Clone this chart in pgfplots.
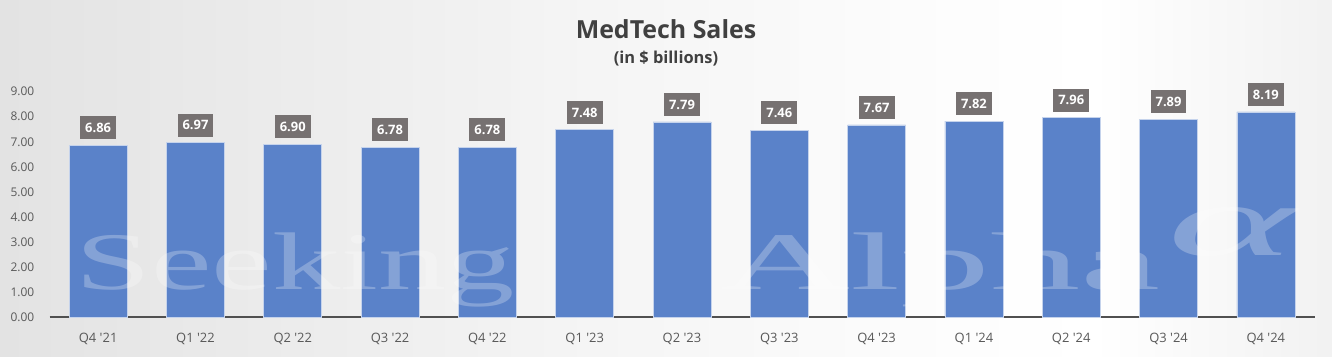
\documentclass[border=0pt]{standalone}
\usepackage{pgfplots}
\pgfplotsset{compat=1.18}
\usepackage{graphicx}
\usepackage{fontspec}
\setmainfont{Open Sans}
\newfontfamily\wmfont{Liberation Serif}
\definecolor{barblue}{HTML}{5A82C9}
\definecolor{lblgray}{HTML}{767171}
\definecolor{txtgray}{HTML}{595959}
\definecolor{titlegray}{HTML}{404040}
\definecolor{axisgray}{HTML}{505050}
\pgfdeclarehorizontalshading{bgshade}{100bp}{%
  color(0bp)=(black!24); color(11bp)=(black!17); color(25bp)=(black!11);
  color(47bp)=(black!4); color(60bp)=(black!1); color(66bp)=(white);
  color(78bp)=(black!7); color(86bp)=(black!17); color(100bp)=(black!25)}
\pgfplotstableread{
x y
0 6.86
1 6.97
2 6.90
3 6.78
4 6.78
5 7.48
6 7.79
7 7.46
8 7.67
9 7.82
10 7.96
11 7.89
12 8.19
}\sales
\begin{document}
\begin{tikzpicture}[x=1bp,y=1bp]
\shade[shading=bgshade] (0,0) rectangle (1332,356);
\node[anchor=base, text=titlegray, font=\fontsize{25}{30}\selectfont\bfseries] at (666,318) {MedTech Sales};
\node[anchor=base, text=titlegray, font=\fontsize{16.5}{19}\selectfont\bfseries] at (666,293) {(in \$ billions)};
\begin{axis}[
  at={(49.5bp,39bp)}, anchor=south west,
  scale only axis, width=1265bp, height=225.3bp,
  xmin=-0.5, xmax=12.5, ymin=0, ymax=9,
  ybar, bar width=58bp,
  axis x line=bottom, axis y line=left,
  x axis line style={draw=axisgray, line width=1.2bp, -},
  y axis line style={draw=none},
  major tick length=0pt,
  xtick=data,
  xticklabels={Q4 \textquotesingle21, Q1 \textquotesingle22, Q2 \textquotesingle22, Q3 \textquotesingle22, Q4 \textquotesingle22, Q1 \textquotesingle23, Q2 \textquotesingle23, Q3 \textquotesingle23, Q4 \textquotesingle23, Q1 \textquotesingle24, Q2 \textquotesingle24, Q3 \textquotesingle24, Q4 \textquotesingle24},
  ytick={0,1,...,9},
  yticklabel style={anchor=east, inner sep=0pt, xshift=-15bp, text=txtgray, font=\fontsize{12}{14}\selectfont,
    /pgf/number format/.cd, fixed, fixed zerofill, precision=2, assume math mode=true},
  xticklabel style={anchor=base, inner sep=0pt, yshift=-25bp, text=txtgray, font=\fontsize{13}{15}\selectfont},
  nodes near coords,
  nodes near coords style={anchor=south, yshift=5.7bp, fill=lblgray, text=white,
    font=\fontsize{13}{15}\selectfont\bfseries, inner xsep=5bp, inner ysep=6.75bp,
    text height=9.5bp, text depth=0pt,
    /pgf/number format/.cd, fixed, fixed zerofill, precision=2, assume math mode=true},
  clip=false,
]
\addplot[fill=barblue, draw=white!65!barblue, line width=0.6bp] table[x=x,y=y] {\sales};
\end{axis}
\begin{scope}[opacity=0.26, text=white]
\node[anchor=base west, inner sep=0pt] at (75,67) {\resizebox{440bp}{\height}{\fontsize{82}{82}\wmfont Seeking}};
\node[anchor=base west, inner sep=0pt] at (720,67) {\resizebox{440bp}{\height}{\fontsize{82}{82}\wmfont Alpha}};
\node[anchor=base west, inner sep=0pt] at (1167,101) {\resizebox{128bp}{48bp}{\fontsize{82}{82}\wmfont\itshape α}};
\end{scope}
\pgfresetboundingbox
\path (0,0) rectangle (1332,356);
\end{tikzpicture}
\end{document}
